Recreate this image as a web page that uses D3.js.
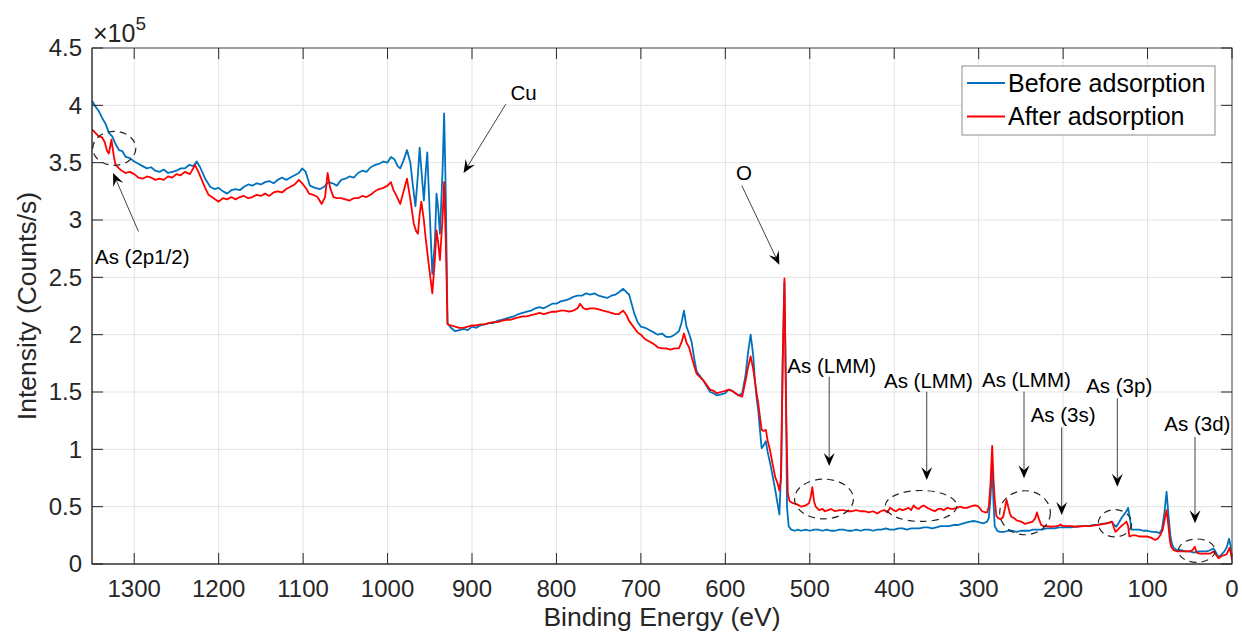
<!DOCTYPE html>
<html>
<head>
<meta charset="utf-8">
<script src="https://cdn.jsdelivr.net/npm/d3@7"></script>
<style>
  body { margin: 0; background: #fff; }
  svg { font-family: "Liberation Sans", Arial, sans-serif; }
</style>
</head>
<body>
<svg id="chart" width="1242" height="633"></svg>
<script>
/* XPS survey spectra, intensity in units of 1e5 counts/s */
const xTicks = [1300, 1200, 1100, 1000, 900, 800, 700, 600, 500, 400, 300, 200, 100, 0]
const yTicks = [0, 0.5, 1, 1.5, 2, 2.5, 3, 3.5, 4, 4.5]
const seriesNames = ["Before adsorption", "After adsorption"]

// [binding energy (eV), intensity (x1e5)]
const beforeSpectrum = [
  [1350,4.04],[1346,3.99],[1342,3.95],[1338,3.89],[1334,3.84],[1330,3.76],[1326,3.73],[1322,3.66],
  [1318,3.61],[1314,3.60],[1310,3.55],[1305,3.54],[1300,3.51],[1295,3.49],[1290,3.47],[1285,3.45],
  [1280,3.46],[1275,3.43],[1270,3.42],[1265,3.44],[1260,3.41],[1255,3.42],[1250,3.43],[1245,3.45],
  [1240,3.45],[1235,3.48],[1230,3.47],[1226,3.51],[1222,3.46],[1216,3.36],[1210,3.29],[1205,3.27],
  [1200,3.28],[1195,3.25],[1190,3.23],[1185,3.26],[1180,3.27],[1175,3.26],[1170,3.29],[1165,3.31],
  [1160,3.30],[1155,3.32],[1150,3.31],[1145,3.33],[1140,3.34],[1135,3.32],[1130,3.35],[1125,3.37],
  [1120,3.35],[1115,3.37],[1110,3.39],[1105,3.41],[1101,3.45],[1097,3.42],[1092,3.30],[1086,3.28],
  [1080,3.27],[1075,3.29],[1070,3.33],[1065,3.32],[1060,3.30],[1055,3.35],[1050,3.36],[1045,3.38],
  [1040,3.37],[1035,3.41],[1030,3.43],[1025,3.42],[1020,3.46],[1015,3.48],[1010,3.49],[1005,3.51],
  [1000,3.50],[996,3.55],[992,3.53],[988,3.47],[985,3.45],[981,3.52],[977,3.61],[973,3.50],
  [970,3.30],[967,3.12],[964,3.40],[962,3.63],[959,3.35],[957,3.17],[955,3.40],[953,3.59],
  [950,3.05],[947,2.53],[944,2.80],[942,3.23],[940,3.10],[938,2.88],[935,3.40],[933,3.93],
  [931,3.20],[929,2.10],[925,2.06],[920,2.03],[915,2.04],[910,2.05],[905,2.04],[900,2.07],
  [895,2.06],[890,2.08],[885,2.09],[880,2.10],[875,2.10],[870,2.12],[865,2.13],[860,2.14],
  [855,2.15],[850,2.16],[845,2.18],[840,2.19],[835,2.20],[830,2.21],[825,2.23],[820,2.24],
  [815,2.23],[810,2.25],[805,2.27],[800,2.27],[795,2.29],[790,2.30],[785,2.31],[780,2.33],
  [775,2.34],[770,2.34],[765,2.36],[760,2.35],[755,2.36],[750,2.34],[745,2.33],[740,2.32],
  [735,2.34],[730,2.35],[726,2.37],[721,2.40],[717,2.37],[714,2.35],[711,2.27],[708,2.19],
  [704,2.11],[700,2.07],[695,2.06],[690,2.04],[685,2.02],[680,2.00],[675,2.01],[670,1.98],
  [665,1.98],[660,2.00],[655,2.03],[652,2.10],[649,2.21],[646,2.07],[643,2.01],[640,1.94],
  [637,1.80],[634,1.68],[630,1.64],[626,1.60],[622,1.55],[618,1.50],[614,1.49],[610,1.47],
  [605,1.48],[600,1.49],[596,1.52],[592,1.51],[588,1.49],[584,1.47],[580,1.49],[576,1.65],
  [573,1.85],[570,2.00],[567,1.82],[565,1.60],[563,1.45],[561,1.34],[559,1.17],[557,1.01],
  [555,1.03],[552,1.07],[550,0.98],[547,0.88],[544,0.77],[541,0.65],[538,0.52],[536,0.43],
  [534,0.80],[532,1.80],[530,2.46],[528,1.40],[527,0.50],[525,0.33],[522,0.30],[518,0.29],
  [514,0.30],[510,0.29],[505,0.30],[500,0.29],[495,0.30],[490,0.30],[485,0.29],[480,0.30],
  [475,0.29],[470,0.29],[465,0.30],[460,0.30],[455,0.29],[450,0.29],[445,0.30],[440,0.29],
  [435,0.30],[430,0.30],[425,0.29],[420,0.30],[415,0.30],[410,0.31],[405,0.30],[400,0.30],
  [395,0.31],[390,0.31],[385,0.30],[380,0.31],[375,0.31],[370,0.31],[365,0.32],[360,0.32],
  [355,0.31],[350,0.32],[345,0.33],[340,0.33],[335,0.33],[330,0.34],[325,0.34],[320,0.35],
  [315,0.36],[310,0.37],[306,0.375],[302,0.37],[298,0.36],[294,0.355],[290,0.37],[288,0.40],
  [286,0.58],[284,0.85],[282.5,0.55],[281,0.33],[278,0.29],[275,0.28],[270,0.28],[265,0.29],
  [260,0.29],[255,0.28],[250,0.29],[245,0.29],[240,0.29],[236,0.30],[230,0.30],[225,0.30],
  [220,0.31],[215,0.31],[210,0.31],[205,0.32],[200,0.32],[195,0.32],[190,0.32],[185,0.325],
  [180,0.33],[175,0.33],[170,0.33],[165,0.34],[160,0.34],[155,0.35],[150,0.355],[146,0.36],
  [143,0.37],[140,0.345],[137,0.325],[134,0.36],[131,0.40],[128,0.43],[125,0.46],[123,0.49],
  [121,0.40],[119,0.30],[115,0.30],[110,0.30],[105,0.29],[100,0.29],[95,0.28],[90,0.28],
  [86,0.27],[83,0.30],[80,0.45],[77.5,0.63],[75.5,0.45],[73,0.25],[71,0.17],[69,0.14],
  [65,0.12],[60,0.12],[55,0.11],[50,0.11],[45,0.10],[40,0.11],[35,0.11],[30,0.11],
  [26,0.12],[22,0.135],[19,0.10],[16,0.06],[13,0.08],[9,0.11],[6,0.15],[3.5,0.22],
  [1.5,0.15],[0,0.09]
]

const afterSpectrum = [
  [1350,3.79],[1346,3.76],[1342,3.73],[1338,3.72],[1335,3.68],[1332,3.60],[1330,3.58],[1327,3.70],
  [1324,3.55],[1322,3.48],[1318,3.45],[1315,3.43],[1310,3.41],[1305,3.42],[1300,3.40],[1295,3.37],
  [1290,3.36],[1285,3.38],[1280,3.37],[1275,3.35],[1270,3.36],[1265,3.35],[1260,3.38],[1255,3.37],
  [1250,3.40],[1245,3.39],[1240,3.42],[1234,3.40],[1228,3.48],[1224,3.42],[1220,3.35],[1216,3.28],
  [1212,3.22],[1206,3.19],[1200,3.16],[1195,3.19],[1190,3.18],[1185,3.20],[1180,3.18],[1175,3.20],
  [1170,3.21],[1165,3.19],[1160,3.20],[1155,3.22],[1150,3.21],[1145,3.23],[1140,3.21],[1135,3.24],
  [1130,3.25],[1125,3.24],[1120,3.27],[1115,3.29],[1110,3.31],[1105,3.35],[1100,3.31],[1096,3.27],
  [1093,3.23],[1088,3.22],[1083,3.20],[1078,3.14],[1074,3.20],[1071,3.41],[1068,3.28],[1064,3.20],
  [1060,3.19],[1055,3.19],[1050,3.18],[1045,3.17],[1040,3.19],[1035,3.19],[1030,3.21],[1025,3.20],
  [1020,3.22],[1015,3.25],[1010,3.27],[1005,3.28],[1000,3.30],[996,3.33],[993,3.26],[990,3.22],
  [985,3.14],[981,3.25],[977,3.36],[973,3.18],[969,2.97],[966,2.90],[964,2.88],[962,3.05],
  [960,3.16],[957,3.00],[955,2.85],[951,2.60],[947,2.36],[944,2.65],[942,2.91],[940,2.80],
  [938,2.65],[935,3.00],[933,3.33],[931,2.80],[929,2.09],[925,2.08],[920,2.07],[915,2.06],
  [910,2.06],[905,2.07],[900,2.08],[895,2.08],[890,2.09],[885,2.09],[880,2.10],[875,2.11],
  [870,2.11],[865,2.12],[860,2.13],[855,2.13],[850,2.14],[845,2.15],[840,2.16],[835,2.16],
  [830,2.17],[825,2.18],[820,2.19],[815,2.18],[810,2.19],[805,2.20],[800,2.20],[795,2.21],
  [790,2.21],[785,2.20],[780,2.21],[775,2.23],[772,2.27],[768,2.23],[765,2.22],[760,2.23],
  [755,2.23],[750,2.22],[745,2.21],[740,2.20],[735,2.19],[730,2.18],[726,2.18],[721,2.21],
  [717,2.17],[714,2.12],[711,2.09],[708,2.06],[704,2.02],[700,2.00],[695,1.96],[690,1.94],
  [685,1.92],[680,1.89],[675,1.88],[670,1.88],[665,1.87],[660,1.88],[655,1.88],[652,1.93],
  [649,2.01],[646,1.93],[643,1.89],[640,1.81],[637,1.73],[634,1.66],[630,1.63],[626,1.60],
  [622,1.56],[618,1.52],[614,1.51],[610,1.49],[605,1.50],[600,1.51],[596,1.52],[592,1.51],
  [588,1.49],[584,1.47],[580,1.46],[576,1.60],[573,1.72],[570,1.81],[567,1.70],[565,1.60],
  [563,1.49],[561,1.40],[559,1.28],[557,1.17],[555,1.16],[552,1.17],[550,1.08],[547,0.99],
  [544,0.87],[541,0.76],[538,0.70],[536,0.64],[534,0.75],[532,1.80],[530,2.49],[528,1.30],
  [526,0.62],[524,0.55],[520,0.53],[515,0.52],[510,0.50],[505,0.51],[501,0.53],[499,0.58],
  [497,0.67],[495,0.55],[493,0.50],[489,0.47],[485,0.48],[482,0.46],[478,0.47],[475,0.48],
  [470,0.46],[465,0.47],[460,0.47],[455,0.46],[450,0.46],[445,0.47],[440,0.46],[435,0.46],
  [430,0.45],[425,0.46],[420,0.44],[416,0.46],[412,0.47],[408,0.45],[405,0.49],[401,0.47],
  [398,0.46],[394,0.48],[390,0.47],[386,0.48],[383,0.49],[380,0.47],[377,0.51],[374,0.49],
  [371,0.48],[368,0.50],[365,0.51],[361,0.49],[358,0.48],[355,0.47],[352,0.46],[348,0.48],
  [345,0.48],[341,0.47],[337,0.49],[333,0.48],[330,0.48],[326,0.49],[322,0.50],[318,0.49],
  [314,0.49],[310,0.50],[306,0.51],[303,0.51],[300,0.50],[296,0.46],[292,0.45],[290,0.45],
  [288,0.50],[286,0.70],[284,1.03],[282.5,0.75],[281,0.56],[279,0.42],[277,0.40],[274,0.39],
  [271,0.41],[269,0.48],[267,0.56],[265,0.50],[263,0.44],[261,0.41],[258,0.40],[255,0.38],
  [250,0.37],[245,0.35],[240,0.36],[236,0.37],[233,0.40],[231,0.45],[229,0.40],[226,0.34],
  [223,0.33],[220,0.33],[214,0.325],[208,0.33],[205,0.335],[203,0.345],[200,0.33],[196,0.33],
  [190,0.33],[184,0.325],[176,0.33],[168,0.33],[160,0.34],[155,0.345],[152,0.35],[148,0.355],
  [145,0.36],[142,0.37],[140,0.32],[138,0.28],[135,0.30],[132,0.325],[128,0.35],[125,0.37],
  [123,0.33],[121.5,0.24],[118,0.25],[114,0.25],[110,0.24],[106,0.24],[101,0.24],[96,0.23],
  [91,0.21],[88,0.22],[85,0.25],[82,0.30],[79.5,0.40],[77.5,0.47],[75.5,0.35],[73.5,0.20],
  [72,0.15],[69,0.12],[65,0.11],[62,0.11],[56,0.11],[50,0.11],[47,0.12],[44,0.15],
  [42,0.10],[38,0.09],[32,0.09],[26,0.09],[22,0.11],[19,0.08],[16,0.05],[12,0.07],
  [8,0.08],[6,0.09],[3,0.14],[1.5,0.10],[0,0.035]
]

// annotations: label, text anchor (eV, x1e5), arrow from -> to
const arrowNotes = [
  { text: "Cu", tx: 839, ty: 4.05, anchor: "middle", from: [860, 4.01], to: [910, 3.41] },
  { text: "O", tx: 578, ty: 3.35, anchor: "middle", from: [580.5, 3.30], to: [536, 2.61] },
  { text: "As (2p1/2)", tx: 1346.5, ty: 2.62, anchor: "start", from: [1295, 2.90], to: [1325, 3.41] },
  { text: "As (LMM)", tx: 474, ty: 1.666, anchor: "middle", from: [477, 1.633], to: [477, 0.855] },
  { text: "As (LMM)", tx: 359.5, ty: 1.539, anchor: "middle", from: [361.5, 1.503], to: [361.5, 0.733] },
  { text: "As (LMM)", tx: 243.5, ty: 1.546, anchor: "middle", from: [246.3, 1.503], to: [246.3, 0.747] },
  { text: "As (3s)", tx: 200, ty: 1.241, anchor: "middle", from: [201.7, 1.192], to: [201.7, 0.427] },
  { text: "As (3p)", tx: 133.6, ty: 1.489, anchor: "middle", from: [135.8, 1.445], to: [135.8, 0.674] },
  { text: "As (3d)", tx: 41, ty: 1.162, anchor: "middle", from: [43.8, 1.110], to: [43.8, 0.355] }
]
// dashed ellipses: centre (eV, x1e5), radii (eV, x1e5)
const ellipseNotes = [
  { cx: 1323.6, cy: 3.625, rx: 25.5, ry: 0.148 },
  { cx: 483.2, cy: 0.567, rx: 34.9, ry: 0.173 },
  { cx: 368.3, cy: 0.506, rx: 42.4, ry: 0.135 },
  { cx: 245.1, cy: 0.447, rx: 30, ry: 0.192 },
  { cx: 138.6, cy: 0.355, rx: 19.8, ry: 0.119 },
  { cx: 41.8, cy: 0.116, rx: 21.7, ry: 0.102 }
]

const colors = ["#0072BD", "#FF0000"]
const plotLeft = 92, plotRight = 1232, plotTop = 48, plotBottom = 564
const axisColor = "#262626"

const svg = d3.select("#chart")

const x = d3.scaleLinear().domain([1350, 0]).range([plotLeft, plotRight])
const y = d3.scaleLinear().domain([0, 4.5]).range([plotBottom, plotTop])

// grid
const grid = svg.append("g")
grid.selectAll("line.gx")
    .data(xTicks)
    .enter().append("line")
    .attr("x1", d => x(d)).attr("x2", d => x(d))
    .attr("y1", plotTop).attr("y2", plotBottom)
    .attr("stroke", "#e3e3e3").attr("stroke-width", 1)
grid.selectAll("line.gy")
    .data(yTicks)
    .enter().append("line")
    .attr("x1", plotLeft).attr("x2", plotRight)
    .attr("y1", d => y(d)).attr("y2", d => y(d))
    .attr("stroke", "#e3e3e3").attr("stroke-width", 1)

// spectra
svg.append("clipPath").attr("id", "plotclip")
    .append("rect").attr("x", plotLeft).attr("y", plotTop)
    .attr("width", plotRight - plotLeft).attr("height", plotBottom - plotTop)

const line = d3.line().x(d => x(d[0])).y(d => y(d[1]))

svg.append("g").attr("clip-path", "url(#plotclip)")
    .selectAll("path")
    .data([beforeSpectrum, afterSpectrum])
    .enter().append("path")
    .attr("d", line)
    .attr("fill", "none")
    .attr("stroke", (d, i) => colors[i])
    .attr("stroke-width", 1.8)
    .attr("stroke-linejoin", "round")

// axes (MATLAB-like: inward ticks on all four sides)
const tickLen = 11
const axes = svg.append("g")
axes.append("rect")
    .attr("x", plotLeft).attr("y", plotTop)
    .attr("width", plotRight - plotLeft).attr("height", plotBottom - plotTop)
    .attr("fill", "none").attr("stroke", "#4d4d4d").attr("stroke-width", 1)
axes.append("line").attr("x1", plotLeft).attr("x2", plotRight).attr("y1", plotBottom).attr("y2", plotBottom)
    .attr("stroke", axisColor)
axes.append("line").attr("x1", plotLeft).attr("x2", plotLeft).attr("y1", plotTop).attr("y2", plotBottom)
    .attr("stroke", axisColor)

axes.selectAll("line.xt")
    .data(xTicks)
    .enter().append("line")
    .attr("x1", d => x(d)).attr("x2", d => x(d))
    .attr("y1", plotBottom).attr("y2", plotBottom - tickLen)
    .attr("stroke", axisColor)
axes.selectAll("line.xtt")
    .data(xTicks)
    .enter().append("line")
    .attr("x1", d => x(d)).attr("x2", d => x(d))
    .attr("y1", plotTop).attr("y2", plotTop + tickLen)
    .attr("stroke", axisColor)
axes.selectAll("line.yt")
    .data(yTicks)
    .enter().append("line")
    .attr("x1", plotLeft).attr("x2", plotLeft + tickLen)
    .attr("y1", d => y(d)).attr("y2", d => y(d))
    .attr("stroke", axisColor)
axes.selectAll("line.ytr")
    .data(yTicks)
    .enter().append("line")
    .attr("x1", plotRight).attr("x2", plotRight - tickLen)
    .attr("y1", d => y(d)).attr("y2", d => y(d))
    .attr("stroke", axisColor)

axes.selectAll("text.xl")
    .data(xTicks)
    .enter().append("text")
    .attr("x", d => x(d))
    .attr("y", plotBottom + 33)
    .attr("text-anchor", "middle")
    .attr("font-size", 24)
    .attr("fill", axisColor)
    .text(d => d)

axes.selectAll("text.yl")
    .data(yTicks)
    .enter().append("text")
    .attr("x", plotLeft - 10)
    .attr("y", d => y(d))
    .attr("dy", "0.35em")
    .attr("text-anchor", "end")
    .attr("font-size", 24)
    .attr("fill", axisColor)
    .text(d => d)

// exponent
const expo = svg.append("text")
    .attr("x", 93).attr("y", 42)
    .attr("font-size", 25)
    .attr("fill", axisColor)
expo.append("tspan").text("\u00d710")
expo.append("tspan").attr("dy", -12).attr("font-size", 19).text("5")

svg.append("text")
    .attr("x", (plotLeft + plotRight) / 2)
    .attr("y", 626)
    .attr("text-anchor", "middle")
    .attr("font-size", 26.5)
    .attr("fill", axisColor)
    .text("Binding Energy (eV)")

svg.append("text")
    .attr("transform", "translate(36," + ((plotTop + plotBottom) / 2) + ") rotate(-90)")
    .attr("text-anchor", "middle")
    .attr("font-size", 26.5)
    .attr("fill", axisColor)
    .text("Intensity (Counts/s)")

// annotations
const notes = svg.append("g")

notes.selectAll("ellipse")
    .data(ellipseNotes)
    .enter().append("ellipse")
    .attr("cx", d => x(d.cx)).attr("cy", d => y(d.cy))
    .attr("rx", d => Math.abs(x(0) - x(d.rx)))
    .attr("ry", d => y(0) - y(d.ry))
    .attr("fill", "none")
    .attr("stroke", "#262626")
    .attr("stroke-width", 1.2)
    .attr("stroke-dasharray", "7,5")

notes.selectAll("text")
    .data(arrowNotes)
    .enter().append("text")
    .attr("x", d => x(d.tx))
    .attr("y", d => y(d.ty))
    .attr("text-anchor", d => d.anchor)
    .attr("font-size", 20.5)
    .attr("fill", "#000")
    .text(d => d.text)

arrowNotes.forEach(d => {
    const x1 = x(d.from[0]), y1 = y(d.from[1])
    const x2 = x(d.to[0]), y2 = y(d.to[1])
    const ang = Math.atan2(y2 - y1, x2 - x1)
    const headLen = 13, headW = 5.5, notch = 8
    const bx = x2 - headLen * Math.cos(ang), by = y2 - headLen * Math.sin(ang)
    const nx = x2 - notch * Math.cos(ang), ny = y2 - notch * Math.sin(ang)
    const px = -Math.sin(ang) * headW, py = Math.cos(ang) * headW
    notes.append("line")
        .attr("x1", x1).attr("y1", y1).attr("x2", nx).attr("y2", ny)
        .attr("stroke", "#444").attr("stroke-width", 1)
    notes.append("path")
        .attr("d", "M" + x2 + "," + y2 + "L" + (bx + px) + "," + (by + py) +
            "L" + nx + "," + ny + "L" + (bx - px) + "," + (by - py) + "Z")
        .attr("fill", "#000")
})

// legend
const legend = svg.append("g")
legend.append("rect")
    .attr("x", 962).attr("y", 66).attr("width", 253).attr("height", 69)
    .attr("fill", "#fff").attr("stroke", "#8c8c8c").attr("stroke-width", 1)

const item = legend.selectAll("g.item")
    .data(seriesNames)
    .enter().append("g")
    .attr("transform", (d, i) => "translate(967," + (83 + i * 33.5) + ")")
item.append("line")
    .attr("x1", 0).attr("x2", 38)
    .attr("stroke", (d, i) => colors[i])
    .attr("stroke-width", 1.8)
item.append("text")
    .attr("x", 41)
    .attr("dy", "0.35em")
    .attr("font-size", 25)
    .attr("fill", "#000")
    .text(d => d)
</script>
</body>
</html>
